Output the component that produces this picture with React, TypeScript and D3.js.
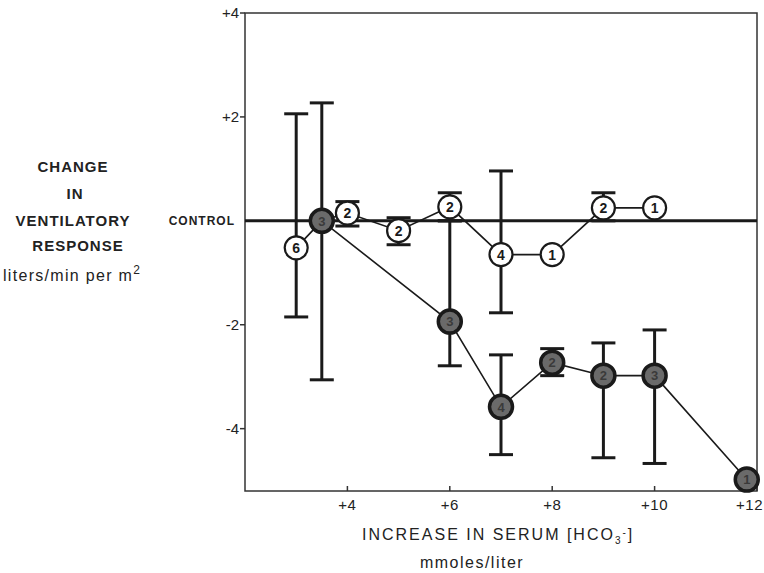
import * as d3 from "d3";

// x = increase in serum HCO3 (mmoles/liter), y = change in ventilatory response
const openX = [3, 3.5, 4, 5, 6, 7, 8, 9, 10];
const openY = [-0.52, 0, 0.15, -0.19, 0.27, -0.65, -0.65, 0.25, 0.25];
const openN = ["6", "3", "2", "2", "2", "4", "1", "2", "1"];
const openLo = [-1.85, null, -0.1, -0.46, 0.0, -1.77, null, 0.0, null];
const openHi = [2.06, null, 0.37, 0.06, 0.54, 0.96, null, 0.54, null];

const filledX = [3.5, 6, 7, 8, 9, 10, 11.8];
const filledY = [0, -1.94, -3.58, -2.73, -2.98, -2.98, -4.98];
const filledN = ["3", "3", "4", "2", "2", "3", "1"];
const filledLo = [-3.06, -2.79, -4.5, -2.98, -4.56, -4.67, null];
const filledHi = [2.27, 0.0, -2.58, -2.46, -2.35, -2.1, null];

const xTicks = [4, 6, 8, 10, 12];
const yTicks = [4, 2, -2, -4];

const W = 764;
const H = 573;
const font = "'Liberation Sans', Arial, sans-serif";

export default function App() {
  const x = d3.scaleLinear().domain([2, 12]).range([245, 757]);
  const y = d3.scaleLinear().domain([4, -5.2]).range([13, 491]);

  const path = d3
    .line<[number, number]>()
    .x((d) => x(d[0]))
    .y((d) => y(d[1]));
  const openPath = path(openX.map((v, i) => [v, openY[i]]));
  const filledPath = path(filledX.map((v, i) => [v, filledY[i]]));

  const errBar = (xv: number, lo: number | null, hi: number | null, k: string) => {
    if (lo == null || hi == null) return null;
    const cx = x(xv);
    return (
      <g key={k} stroke="#1a1a1a" strokeWidth={3}>
        <line x1={cx} x2={cx} y1={y(hi)} y2={y(lo)} />
        <line x1={cx - 12} x2={cx + 12} y1={y(hi)} y2={y(hi)} />
        <line x1={cx - 12} x2={cx + 12} y1={y(lo)} y2={y(lo)} />
      </g>
    );
  };

  return (
    <svg
      width={W}
      height={H}
      style={{ position: "absolute", left: 0, top: 0, background: "#fff" }}
      fontFamily={font}
    >
      {/* frame */}
      <rect x={245} y={13} width={512} height={478} fill="none" stroke="#333" strokeWidth={1.5} />
      {yTicks.map((t) => (
        <g key={"y" + t}>
          <line x1={240} x2={245} y1={y(t)} y2={y(t)} stroke="#333" strokeWidth={1.5} />
          <text x={239} y={y(t)} dy="0.35em" textAnchor="end" fontSize={15} fill="#222">
            {t > 0 ? "+" + t : "-" + Math.abs(t)}
          </text>
        </g>
      ))}
      {xTicks.map((t) => (
        <g key={"x" + t}>
          <line x1={x(t)} x2={x(t)} y1={491} y2={486} stroke="#333" strokeWidth={1.5} />
          <text
            x={t === 12 ? 763 : x(t)}
            y={510}
            textAnchor={t === 12 ? "end" : "middle"}
            fontSize={15}
            fill="#222"
            letterSpacing={0.5}
          >
            {"+" + t}
          </text>
        </g>
      ))}

      {/* control line */}
      <line x1={245} x2={757} y1={y(0)} y2={y(0)} stroke="#1a1a1a" strokeWidth={3} />
      <text x={235} y={y(0)} dy="0.35em" textAnchor="end" fontSize={12} fontWeight="bold" fill="#222" letterSpacing={1}>
        CONTROL
      </text>

      {/* error bars */}
      {openX.map((v, i) => errBar(v, openLo[i], openHi[i], "oe" + i))}
      {filledX.map((v, i) => errBar(v, filledLo[i], filledHi[i], "fe" + i))}

      {/* connecting lines */}
      <path d={openPath ?? ""} fill="none" stroke="#1a1a1a" strokeWidth={1.6} />
      <path d={filledPath ?? ""} fill="none" stroke="#1a1a1a" strokeWidth={1.6} />

      {/* open points */}
      {openX.map((v, i) => (
        <g key={"op" + i} transform={`translate(${x(v)},${y(openY[i])})`}>
          <circle r={11.5} fill="#fff" stroke="#1a1a1a" strokeWidth={2.2} />
          <text dy="0.36em" textAnchor="middle" fontSize={14} fontWeight="bold" fill="#1a1a1a">
            {openN[i]}
          </text>
        </g>
      ))}

      {/* filled points */}
      {filledX.map((v, i) => (
        <g key={"fp" + i} transform={`translate(${x(v)},${y(filledY[i])})`}>
          <circle r={11.5} fill="#6a6a6a" stroke="#1a1a1a" strokeWidth={3.5} />
          <text dy="0.36em" textAnchor="middle" fontSize={13} fontWeight="bold" fill="#3a3a3a">
            {filledN[i]}
          </text>
        </g>
      ))}

      {/* y axis title */}
      <g fill="#222" fontSize={15} fontWeight="bold" textAnchor="middle" letterSpacing={1}>
        <text x={73} y={172}>CHANGE</text>
        <text x={75} y={199}>IN</text>
        <text x={73} y={226}>VENTILATORY</text>
        <text x={78} y={251}>RESPONSE</text>
      </g>
      <text x={3} y={281} fontSize={16} fill="#222" letterSpacing={1.3}>
        liters/min per m
        <tspan dy={-7} fontSize={12}>2</tspan>
      </text>

      {/* x axis title */}
      <text x={362} y={540} fontSize={16} fill="#222" letterSpacing={2}>
        INCREASE IN SERUM [HCO
        <tspan dy={4} fontSize={10}>3</tspan>
        <tspan dy={-8} fontSize={10}>-</tspan>
        <tspan dy={4}>]</tspan>
      </text>
      <text x={472} y={568} textAnchor="middle" fontSize={16} fill="#222" letterSpacing={1.5}>
        mmoles/liter
      </text>
    </svg>
  );
}
